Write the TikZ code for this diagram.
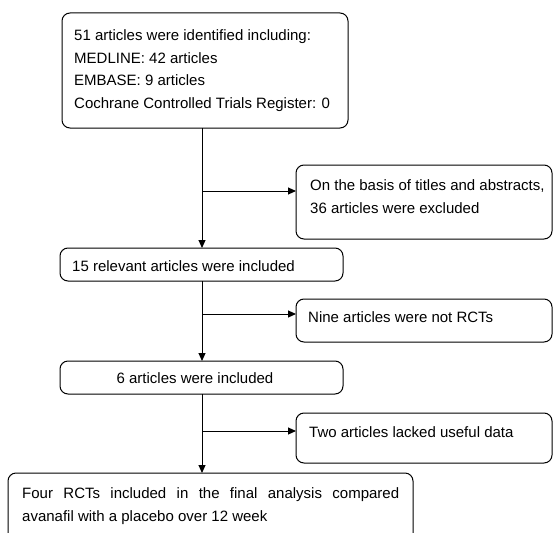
\documentclass[tikz,border=0pt]{standalone}
\usepackage{fontspec}
\setmainfont{Liberation Sans}
\usetikzlibrary{arrows.meta}
\begin{document}
\begin{tikzpicture}[x=1pt,y=-1pt,
  box/.style={draw=black, line width=1pt, rounded corners=8pt, inner sep=0pt, outer sep=0pt, anchor=north west},
  txt/.style={inner sep=0pt, anchor=north west, align=left, font=\fontsize{15}{22.5}\selectfont},
  conn/.style={draw=black, line width=1pt},
  arr/.style={conn, -{Triangle[length=8pt,width=7pt]}}]
\useasboundingbox (0,0) rectangle (553,532);
\clip (0,0) rectangle (553,532);
% boxes
\node[box, minimum width=286pt, minimum height=115pt] (b1) at (62,13) {};
\node[box, minimum width=256pt, minimum height=74pt] (b2) at (296,165) {};
\node[box, minimum width=283pt, minimum height=33pt] (b3) at (60,248) {};
\node[box, minimum width=256pt, minimum height=43pt] (b4) at (296,299) {};
\node[box, minimum width=283pt, minimum height=33pt] (b5) at (60,361) {};
\node[box, minimum width=256pt, minimum height=50pt] (b6) at (296,413) {};
\node[box, minimum width=405pt, minimum height=90pt] (b7) at (8,473) {};
% texts
\node[txt] (t1) at (74,29.5) {51 articles were identified including:\\MEDLINE: 42 articles\\EMBASE: 9 articles\\Cochrane Controlled Trials Register: 0};
\node[txt] (t2) at (310,179.5) {On the basis of titles and abstracts,\\36 articles were excluded};
\node[txt] (t3) at (72,260.5) {15 relevant articles were included};
\node[txt] (t4) at (308,311.5) {Nine articles were not RCTs};
\node[txt, anchor=north] (t5) at (195,372.5) {6 articles were included};
\node[txt] (t6) at (309,426.5) {Two articles lacked useful data};
\node[txt, text width=377pt, align=justify] (t7) at (22,487.5) {Four RCTs included in the final analysis compared avanafil with a placebo over 12 week};
% connectors
\coordinate (spine) at (202,0);
\coordinate (j1) at (202,191);
\coordinate (j2) at (202,314);
\coordinate (j3) at (202,431);
\draw[arr] (b1.south -| spine) -- (b3.north -| spine);
\draw[arr] (j1) -- (j1 -| b2.west);
\draw[arr] (b3.south -| spine) -- (b5.north -| spine);
\draw[arr] (j2) -- (j2 -| b4.west);
\draw[arr] (b5.south -| spine) -- (b7.north -| spine);
\draw[arr] (j3) -- (j3 -| b6.west);
\end{tikzpicture}
\end{document}
